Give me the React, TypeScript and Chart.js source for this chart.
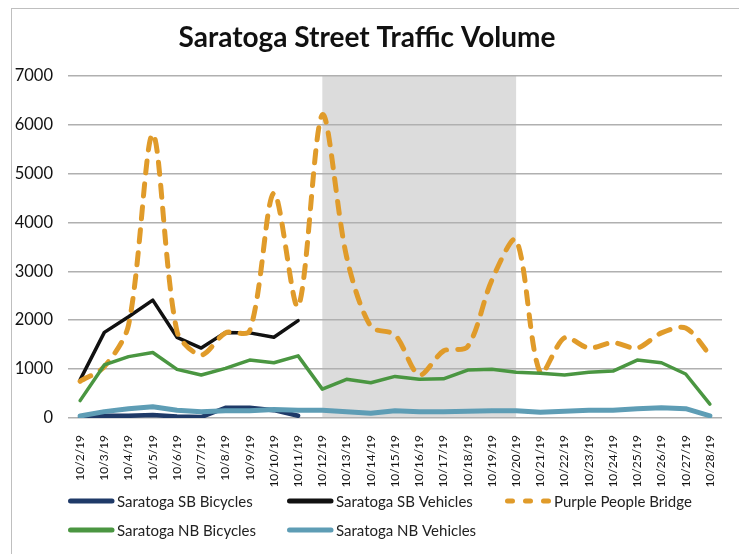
import React, { useEffect, useRef } from 'react';
import { Chart, registerables } from 'chart.js';
Chart.register(...registerables);

const categories = [
  '10/2/19', '10/3/19', '10/4/19', '10/5/19', '10/6/19', '10/7/19', '10/8/19', '10/9/19', '10/10/19',
  '10/11/19', '10/12/19', '10/13/19', '10/14/19', '10/15/19', '10/16/19', '10/17/19', '10/18/19',
  '10/19/19', '10/20/19', '10/21/19', '10/22/19', '10/23/19', '10/24/19', '10/25/19', '10/26/19',
  '10/27/19', '10/28/19',
];

const sbBicycles = [20, 45, 45, 60, 30, 20, 210, 210, 160, 45,
  null, null, null, null, null, null, null, null, null, null, null, null, null, null, null, null, null];
const sbVehicles = [780, 1750, 2070, 2410, 1650, 1430, 1750, 1740, 1650, 1990,
  null, null, null, null, null, null, null, null, null, null, null, null, null, null, null, null, null];
const purplePeopleBridge = [750, 1050, 1900, 5800, 1770, 1290, 1740, 1780, 4600, 2280, 6200, 3300, 1870,
  1700, 880, 1370, 1460, 2820, 3640, 920, 1640, 1430, 1540, 1430, 1740, 1840, 1290];
const nbBicycles = [355, 1085, 1255, 1340, 995, 880, 1015, 1185, 1130, 1270, 590, 790, 720, 850, 790,
  800, 980, 995, 935, 915, 880, 935, 960, 1185, 1130, 900, 285];
const nbVehicles = [40, 130, 190, 230, 160, 130, 150, 150, 175, 160, 160, 130, 95, 150, 130, 130, 140,
  150, 150, 120, 140, 160, 160, 190, 210, 190, 45];

const yTicks = [0, 1000, 2000, 3000, 4000, 5000, 6000, 7000];
const shadeRange = ['10/12/19', '10/20/19'];
const title = 'Saratoga Street Traffic Volume';

const FONT = 'Lato, "Open Sans", sans-serif';

const seriesStyles = [
  { label: 'Saratoga SB Bicycles', data: sbBicycles, color: '#1f3a68', width: 4.5, dash: [] as number[], tension: 0 },
  { label: 'Saratoga SB Vehicles', data: sbVehicles, color: '#111111', width: 3.5, dash: [] as number[], tension: 0 },
  { label: 'Purple People Bridge', data: purplePeopleBridge, color: '#e09b2a', width: 5, dash: [12, 11], tension: 0.3 },
  { label: 'Saratoga NB Bicycles', data: nbBicycles, color: '#4a9641', width: 3.5, dash: [] as number[], tension: 0 },
  { label: 'Saratoga NB Vehicles', data: nbVehicles, color: '#5e9db5', width: 5, dash: [] as number[], tension: 0 },
];

export default function App() {
  const ref = useRef<HTMLCanvasElement>(null);

  useEffect(() => {
    if (!ref.current) return;

    const shadePlugin = {
      id: 'shade',
      beforeDraw(chart: any) {
        const { ctx, chartArea, scales } = chart;
        const x = scales.x;
        const x1 = x.getPixelForValue(categories.indexOf(shadeRange[0]));
        const x2 = x.getPixelForValue(categories.indexOf(shadeRange[1]));
        ctx.save();
        ctx.fillStyle = '#dcdcdc';
        ctx.fillRect(x1, chartArea.top, x2 - x1, chartArea.bottom - chartArea.top);
        ctx.restore();
      },
    };

    const legendPlugin = {
      id: 'customLegend',
      afterDraw(chart: any) {
        const { ctx } = chart;
        const cols = [56, 275, 493];
        const rows = [492, 521];
        ctx.save();
        ctx.font = `15px ${FONT}`;
        ctx.textBaseline = 'middle';
        seriesStyles.forEach((s, i) => {
          const col = cols[i % 3];
          const row = rows[Math.floor(i / 3)];
          ctx.strokeStyle = s.color;
          ctx.lineWidth = 5;
          ctx.lineCap = 'round';
          if (s.dash.length) {
            ctx.setLineDash([5, 13]);
          }
          ctx.beginPath();
          ctx.moveTo(col + 2.5, row);
          ctx.lineTo(col + 44, row);
          ctx.stroke();
          ctx.setLineDash([]);
          ctx.fillStyle = '#222';
          ctx.textAlign = 'left';
          ctx.fillText(s.label, col + 49, row + 1);
        });
        ctx.restore();
      },
    };

    const chart = new Chart(ref.current, {
      type: 'line',
      data: {
        labels: categories,
        datasets: seriesStyles.map((s, i) => ({
          label: s.label,
          data: s.data,
          borderColor: s.color,
          backgroundColor: s.color,
          borderWidth: s.width,
          borderDash: s.dash,
          borderCapStyle: 'round' as const,
          borderJoinStyle: 'round' as const,
          pointRadius: 0,
          tension: s.tension,
          fill: false,
          spanGaps: false,
          order: seriesStyles.length - i,
        })),
      },
      options: {
        responsive: false,
        animation: false,
        layout: { padding: { left: 0, right: 17, top: 0, bottom: 60 } },
        plugins: {
          legend: { display: false },
          tooltip: { enabled: false },
          title: {
            display: true,
            text: title,
            color: '#111',
            font: { family: FONT, size: 28, weight: 'bold' },
            padding: { top: 12, bottom: 21 },
          },
        },
        scales: {
          x: {
            offset: true,
            grid: { display: false },
            border: { display: false },
            ticks: {
              autoSkip: false,
              maxRotation: 90,
              minRotation: 90,
              padding: 9,
              color: '#111',
              font: { family: FONT, size: 12 },
            },
            afterFit(scale: any) {
              scale.height = 76;
            },
          },
          y: {
            min: yTicks[0],
            max: yTicks[yTicks.length - 1],
            afterBuildTicks(scale: any) {
              scale.ticks = yTicks.map((v) => ({ value: v }));
            },
            grid: { color: '#b0b0b0', lineWidth: 1.5, drawTicks: false },
            border: { display: false },
            ticks: {
              padding: 15,
              color: '#111',
              font: { family: FONT, size: 16.5 },
              callback: (v: any) => String(v),
            },
            afterFit(scale: any) {
              scale.width = 56;
            },
          },
        },
      },
      plugins: [shadePlugin, legendPlugin],
    });

    return () => chart.destroy();
  }, []);

  return (
    <div
      style={{
        marginLeft: 3,
        width: 727,
        height: 560,
        border: '1px solid #bfbfbf',
        boxSizing: 'content-box',
        background: '#fff',
      }}
    >
      <canvas ref={ref} width={727} height={545} style={{ display: 'block' }} />
    </div>
  );
}
